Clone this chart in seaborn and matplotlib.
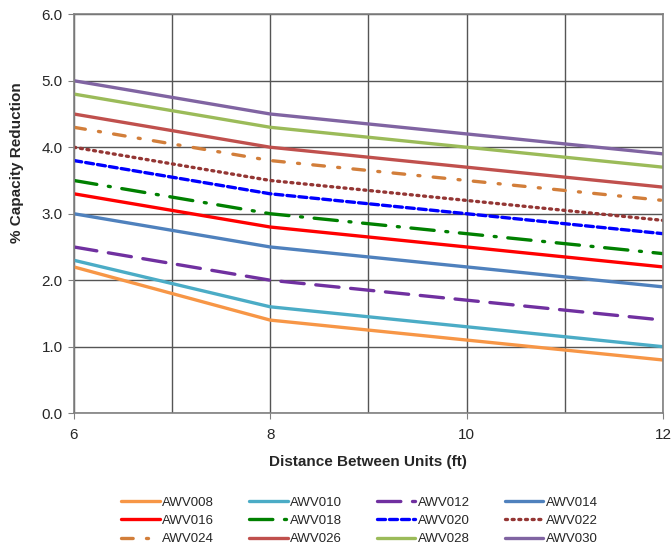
import matplotlib
matplotlib.use("Agg")
import matplotlib.pyplot as plt
import seaborn as sns
import pandas as pd

distance = [6, 8, 10, 12]
models = ["AWV008", "AWV010", "AWV012", "AWV014", "AWV016", "AWV018",
          "AWV020", "AWV022", "AWV024", "AWV026", "AWV028", "AWV030"]
awv008 = [2.2, 1.4, 1.1, 0.8]
awv010 = [2.3, 1.6, 1.3, 1.0]
awv012 = [2.5, 2.0, 1.7, 1.4]
awv014 = [3.0, 2.5, 2.2, 1.9]
awv016 = [3.3, 2.8, 2.5, 2.2]
awv018 = [3.5, 3.0, 2.7, 2.4]
awv020 = [3.8, 3.3, 3.0, 2.7]
awv022 = [4.0, 3.5, 3.2, 2.9]
awv024 = [4.3, 3.8, 3.5, 3.2]
awv026 = [4.5, 4.0, 3.7, 3.4]
awv028 = [4.8, 4.3, 4.0, 3.7]
awv030 = [5.0, 4.5, 4.2, 3.9]

series = [awv008, awv010, awv012, awv014, awv016, awv018,
          awv020, awv022, awv024, awv026, awv028, awv030]

colors = ["#F79646", "#4BACC6", "#7030A0", "#4F81BD", "#FF0000", "#008000",
          "#0000FF", "#943634", "#D27E3A", "#C0504D", "#9BBB59", "#8064A2"]
dash_styles = ["", "", (7, 3.5), "", "", (7, 3.5, 0.6, 3.5),
               (2.4, 1.2), (0.6, 1.4), (3.5, 4, 0.6, 4), "", "", ""]

rows = []
for name, vals in zip(models, series):
    for d, v in zip(distance, vals):
        rows.append({"Distance": d, "Reduction": v, "Model": name})
df = pd.DataFrame(rows)

sns.set_style("white")
plt.rcParams["font.family"] = ["Liberation Sans", "DejaVu Sans"]

fig = plt.figure(figsize=(6.71, 5.48), dpi=100)
ax = fig.add_axes([0.110, 0.246, 0.878, 0.728])

sns.lineplot(data=df, x="Distance", y="Reduction", hue="Model", style="Model",
             palette=dict(zip(models, colors)), dashes=dict(zip(models, dash_styles)),
             linewidth=2.4, ax=ax, legend=False)
for line in ax.get_lines():
    line.set_dash_capstyle("round")

ax.set_xlim(6, 12)
ax.set_ylim(0, 6)
ax.set_xticks([6, 8, 10, 12])
ax.set_xticks([7, 9, 11], minor=True)
ax.set_yticks([0, 1, 2, 3, 4, 5, 6])
ax.set_yticklabels([f"{v:.1f}" for v in range(7)])
ax.grid(True, which="both", color="#555555", linewidth=1.0)
ax.set_axisbelow(True)
for s in ax.spines.values():
    s.set_color("#808080")
    s.set_linewidth(1.2)
ax.tick_params(axis="both", which="major", labelsize=11, length=4, color="#808080",
               direction="out", bottom=True, left=True, pad=4)
ax.tick_params(axis="x", which="major", pad=7)
ax.tick_params(axis="x", which="minor", length=0)

ax.set_xlabel("Distance Between Units (ft)", fontsize=11, weight="bold", labelpad=9)
ax.set_ylabel("% Capacity Reduction", fontsize=11, weight="bold")
ax.yaxis.set_label_coords(-0.085, 0.627)

handles = ax.get_lines()[:len(models)]
order = [0, 4, 8, 1, 5, 9, 2, 6, 10, 3, 7, 11]
fig.legend([handles[i] for i in order], [models[i] for i in order],
           loc="lower center", bbox_to_anchor=(0.536, -0.017), ncol=4, frameon=False,
           fontsize=9.5, handlelength=2.9, handletextpad=0.2, columnspacing=2.65,
           labelspacing=0.47)

fig.savefig("out.png", dpi=100)
